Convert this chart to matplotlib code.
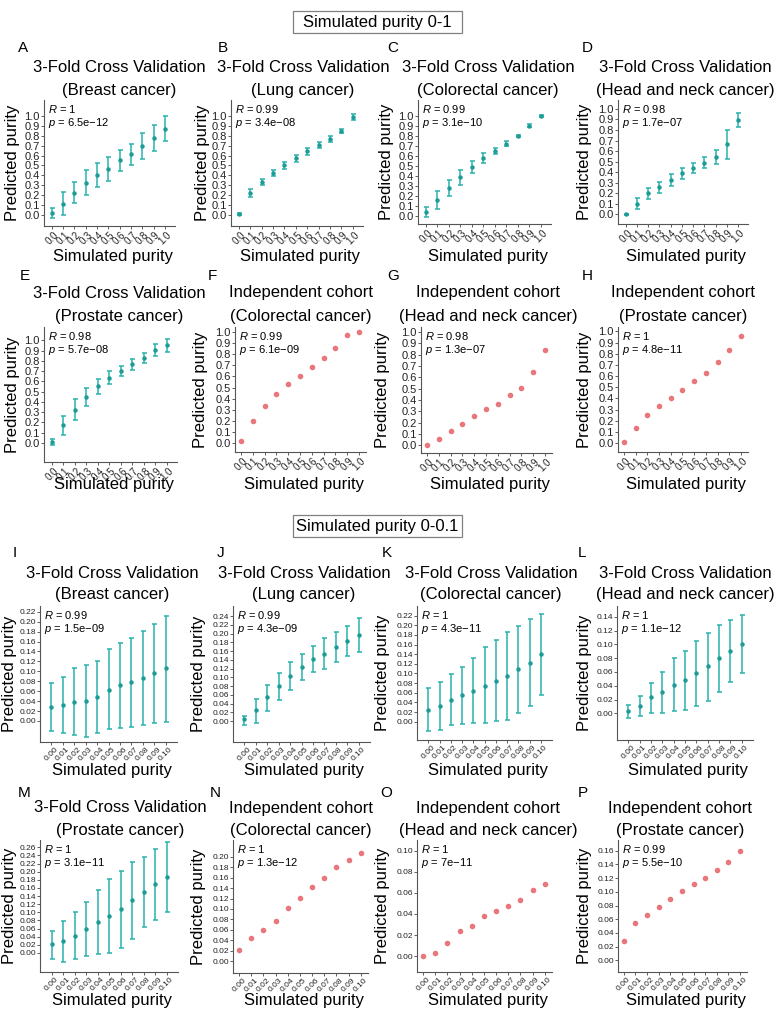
import numpy as np
import matplotlib
matplotlib.use("Agg")
import matplotlib.pyplot as plt
from matplotlib.patches import Rectangle

plt.rcParams["font.family"] = "Liberation Sans"
plt.rcParams["mathtext.fontset"] = "custom"
plt.rcParams["mathtext.it"] = "Liberation Sans:italic"
plt.rcParams["mathtext.rm"] = "Liberation Sans"

W, H = 778, 1011

sim_01 = ["0.0", "0.1", "0.2", "0.3", "0.4", "0.5", "0.6", "0.7", "0.8", "0.9", "1.0"]
sim_001 = ["0.00", "0.01", "0.02", "0.03", "0.04", "0.05", "0.06", "0.07", "0.08", "0.09", "0.10"]

# --- simulated purity 0-1 ---
a_mean = [0.027, 0.115, 0.226, 0.329, 0.409, 0.465, 0.552, 0.618, 0.691, 0.774, 0.867]
a_lo = [-0.023, 0.0, 0.126, 0.206, 0.286, 0.345, 0.442, 0.502, 0.565, 0.641, 0.741]
a_hi = [0.076, 0.232, 0.332, 0.452, 0.525, 0.585, 0.658, 0.718, 0.824, 0.907, 0.997]

b_mean = [0.01, 0.226, 0.336, 0.425, 0.50, 0.575, 0.641, 0.704, 0.764, 0.847, 0.983]
b_lo = [0.0, 0.186, 0.306, 0.395, 0.465, 0.54, 0.606, 0.674, 0.734, 0.827, 0.953]
b_hi = [0.02, 0.266, 0.366, 0.455, 0.535, 0.61, 0.676, 0.734, 0.794, 0.867, 1.013]

c_mean = [0.035, 0.16, 0.282, 0.385, 0.49, 0.575, 0.651, 0.718, 0.797, 0.897, 0.997]
c_lo = [-0.015, 0.07, 0.202, 0.31, 0.43, 0.525, 0.621, 0.693, 0.787, 0.882, 0.987]
c_hi = [0.085, 0.25, 0.362, 0.46, 0.55, 0.625, 0.681, 0.743, 0.807, 0.912, 1.007]

d_mean = [0.0, 0.1, 0.2, 0.263, 0.326, 0.389, 0.44, 0.49, 0.541, 0.668, 0.896]
d_lo = [-0.005, 0.047, 0.142, 0.2, 0.27, 0.335, 0.396, 0.437, 0.478, 0.522, 0.832]
d_hi = [0.005, 0.152, 0.247, 0.31, 0.38, 0.437, 0.484, 0.547, 0.611, 0.8, 0.965]

e_mean = [0.01, 0.172, 0.325, 0.448, 0.552, 0.636, 0.698, 0.766, 0.831, 0.903, 0.951]
e_lo = [-0.02, 0.082, 0.225, 0.358, 0.482, 0.571, 0.648, 0.716, 0.781, 0.843, 0.891]
e_hi = [0.04, 0.262, 0.425, 0.538, 0.622, 0.701, 0.748, 0.816, 0.881, 0.963, 1.011]

f_pred = [0.02, 0.195, 0.336, 0.438, 0.528, 0.6, 0.682, 0.769, 0.859, 0.97, 1.0]
g_pred = [0.0, 0.059, 0.126, 0.191, 0.259, 0.324, 0.368, 0.441, 0.506, 0.647, 0.844]
h_pred = [0.01, 0.137, 0.251, 0.328, 0.406, 0.478, 0.555, 0.627, 0.725, 0.83, 0.955]

# --- simulated purity 0-0.1 ---
i_mean = [0.028, 0.032, 0.038, 0.041, 0.048, 0.063, 0.072, 0.079, 0.087, 0.097, 0.106]
i_lo = [-0.021, -0.024, -0.029, -0.032, -0.024, -0.017, -0.015, -0.013, -0.009, -0.004, -0.002]
i_hi = [0.077, 0.089, 0.106, 0.112, 0.121, 0.144, 0.157, 0.168, 0.181, 0.196, 0.212]

j_mean = [0.005, 0.025, 0.054, 0.08, 0.103, 0.124, 0.141, 0.153, 0.17, 0.183, 0.196]
j_lo = [-0.008, -0.004, 0.024, 0.047, 0.07, 0.093, 0.112, 0.118, 0.134, 0.148, 0.158]
j_hi = [0.011, 0.051, 0.083, 0.11, 0.134, 0.154, 0.171, 0.189, 0.204, 0.217, 0.235]

k_mean = [0.024, 0.033, 0.046, 0.055, 0.064, 0.075, 0.085, 0.095, 0.109, 0.122, 0.14]
k_lo = [-0.019, -0.017, -0.007, -0.005, -0.002, -0.002, 0.001, 0.003, 0.019, 0.033, 0.055]
k_hi = [0.069, 0.083, 0.099, 0.114, 0.133, 0.154, 0.17, 0.187, 0.199, 0.212, 0.224]

l_mean = [0.004, 0.011, 0.023, 0.031, 0.041, 0.048, 0.058, 0.068, 0.08, 0.091, 0.1]
l_lo = [-0.006, -0.004, 0.0, 0.001, 0.004, 0.005, 0.011, 0.018, 0.031, 0.046, 0.058]
l_hi = [0.012, 0.025, 0.044, 0.06, 0.08, 0.091, 0.105, 0.116, 0.128, 0.135, 0.143]

m_mean = [0.021, 0.03, 0.042, 0.059, 0.077, 0.091, 0.109, 0.13, 0.151, 0.169, 0.186]
m_lo = [-0.016, -0.022, -0.016, -0.008, -0.002, 0.0, 0.013, 0.035, 0.064, 0.081, 0.1]
m_hi = [0.054, 0.079, 0.1, 0.126, 0.155, 0.181, 0.202, 0.225, 0.235, 0.255, 0.272]

n_pred = [0.021, 0.045, 0.06, 0.077, 0.102, 0.121, 0.142, 0.16, 0.181, 0.194, 0.208]
o_pred = [0.0, 0.0035, 0.013, 0.024, 0.029, 0.038, 0.043, 0.048, 0.053, 0.063, 0.068]
p_pred = [0.028, 0.055, 0.066, 0.078, 0.089, 0.101, 0.111, 0.12, 0.132, 0.143, 0.16]

r_values = ["1", "0.99", "0.99", "0.98", "0.98", "0.99", "0.98", "1",
            "0.99", "0.99", "1", "1", "1", "1", "1", "0.99"]
p_values = ["6.5e\u221212", "3.4e\u221208", "3.1e\u221210", "1.7e\u221207",
            "5.7e\u221208", "6.1e\u221209", "1.3e\u221207", "4.8e\u221211",
            "1.5e\u221209", "4.3e\u221209", "4.3e\u221211", "1.1e\u221212",
            "3.1e\u221211", "1.3e\u221212", "7e\u221211", "5.5e\u221210"]

cv = "3-Fold Cross Validation"
ind = "Independent cohort"
cancers = ["(Breast cancer)", "(Lung cancer)", "(Colorectal cancer)", "(Head and neck cancer)",
           "(Prostate cancer)", "(Colorectal cancer)", "(Head and neck cancer)", "(Prostate cancer)"]
title_top = [cv, cv, cv, cv, cv, ind, ind, ind]

teal = "#2ab3ad"
teal_dark = "#1c9c96"
red = "#e8767a"

fig = plt.figure(figsize=(W / 100, H / 100), dpi=100)


def fx(px):
    return px / W


def fy(py):
    return 1 - py / H


# (letter, data, axes box left/right/top/bottom px, ylim, ytick max, letter x, title x, ylabel x)
panels = [
    ("A", (a_mean, a_lo, a_hi), (44, 175, 100, 226), (-0.106, 1.156), 1.0, 18, 119, 13),
    ("B", (b_mean, b_lo, b_hi), (231, 363, 100, 226), (-0.106, 1.156), 1.0, 218, 303, 202),
    ("C", (c_mean, c_lo, c_hi), (418, 551, 100, 224), (-0.08, 1.156), 1.0, 387, 488, 387),
    ("D", (d_mean, d_lo, d_hi), (618, 748, 100, 224), (-0.092, 1.085), 1.0, 582, 685, 584),
    ("E", (e_mean, e_lo, e_hi), (44, 177, 327, 462), (-0.185, 1.13), 1.0, 20, 119, 13),
    ("F", (f_pred,), (235, 366, 327, 452), (-0.081, 1.045), 1.0, 208, 301, 200),
    ("G", (g_pred,), (421, 552, 327, 453), (-0.068, 1.044), 1.0, 387, 488, 383),
    ("H", (h_pred,), (618, 748, 327, 452), (-0.08, 1.039), 1.0, 582, 683, 585),
    ("I", (i_mean, i_lo, i_hi), (40, 177, 606, 742), (-0.0424, 0.2315), 0.22, 13, 112, 10),
    ("J", (j_mean, j_lo, j_hi), (233, 370, 606, 742), (-0.048, 0.263), 0.24, 217, 304, 199),
    ("K", (k_mean, k_lo, k_hi), (417, 552, 606, 740), (-0.038, 0.240), 0.22, 382, 491, 383),
    ("L", (l_mean, l_lo, l_hi), (617, 753, 606, 740), (-0.0386, 0.1556), 0.14, 578, 685, 584),
    ("M", (m_mean, m_lo, m_hi), (40, 178, 840, 972), (-0.047, 0.278), 0.26, 18, 120, 10),
    ("N", (n_pred,), (233, 368, 840, 973), (-0.0226, 0.232), 0.20, 210, 301, 199),
    ("O", (o_pred,), (417, 552, 840, 972), (-0.0149, 0.110), 0.10, 380, 488, 383),
    ("P", (p_pred,), (618, 747, 840, 972), (-0.017, 0.1756), 0.16, 578, 680, 584),
]

# per row: letter y, title line1 y, title line2 y, xlabel y
rows = [(48, 68, 91, 257), (276, 293, 316, 485), (553, 573, 595, 770), (793, 808, 830, 1000)]

for idx, (letter, data, box, ylim, ymax, lx, tx, ylx) in enumerate(panels):
    row = idx // 4
    fine = row >= 2
    left, right, top, bottom = box
    ax = fig.add_axes([fx(left), fy(bottom), (right - left) / W, (bottom - top) / H])
    x = np.arange(11)
    if len(data) == 3:
        mean, lo, hi = (np.array(d) for d in data)
        ax.errorbar(x, mean, yerr=[mean - lo, hi - mean], fmt="o", ms=2.2,
                    color=teal_dark, ecolor=teal, elinewidth=1.1, capsize=1.8, capthick=1.1)
        ax.set_xlim((-1.0, 11.0) if fine else (-0.7, 10.9))
    else:
        ax.plot(x, data[0], "o", ms=4, color=red, markeredgewidth=0)
        ax.set_xlim(-0.5, 10.6)
    ax.set_ylim(*ylim)
    step = 0.02 if fine else 0.1
    yt = np.arange(0, ymax + 1e-9, step)
    ax.set_yticks(yt)
    ax.set_yticklabels([("%.2f" if fine else "%.1f") % v for v in yt])
    ax.set_xticks(x)
    ax.set_xticklabels(sim_001 if fine else sim_01, rotation=45)
    ax.tick_params(length=2, width=0.6, pad=1, color="#444444", labelcolor="#222222")
    ax.tick_params(axis="y", labelsize=6 if fine else 8)
    ax.tick_params(axis="x", labelsize=6 if fine else 7)
    for s in ["top", "right"]:
        ax.spines[s].set_visible(False)
    for s in ["left", "bottom"]:
        ax.spines[s].set_color("#555555")
        ax.spines[s].set_linewidth(0.8)

    ax.annotate(r"$\it{R}$ = " + r_values[idx], xy=(0, 1), xycoords="axes fraction",
                xytext=(4, -9), textcoords="offset pixels", va="center", fontsize=8)
    ax.annotate(r"$\it{p}$ = " + p_values[idx], xy=(0, 1), xycoords="axes fraction",
                xytext=(4, -23), textcoords="offset pixels", va="center", fontsize=8)

    ly, t1, t2, xly = rows[row]
    fig.text(fx(lx), fy(ly), letter, fontsize=11, ha="left", va="center")
    fig.text(fx(tx), fy(t1), title_top[idx % 8], fontsize=12, ha="center", va="center")
    fig.text(fx(tx), fy(t2), cancers[idx % 8], fontsize=12, ha="center", va="center")
    fig.text(fx(ylx), fy((top + bottom) / 2), "Predicted purity", fontsize=12,
             rotation=90, ha="center", va="center")
    fig.text(fx((left + right) / 2 + 3), fy(xly), "Simulated purity", fontsize=12,
             ha="center", va="center")

# section headers in boxes
for label, cy in [("Simulated purity 0-1", 22), ("Simulated purity 0-0.1", 526)]:
    fig.patches.append(Rectangle((fx(293), fy(cy + 11)), 169 / W, 22 / H,
                                 transform=fig.transFigure, fill=False,
                                 edgecolor="#808080", linewidth=0.9))
    fig.text(fx(377.5), fy(cy), label, fontsize=12, ha="center", va="center")

fig.savefig("out.png", dpi=100)
